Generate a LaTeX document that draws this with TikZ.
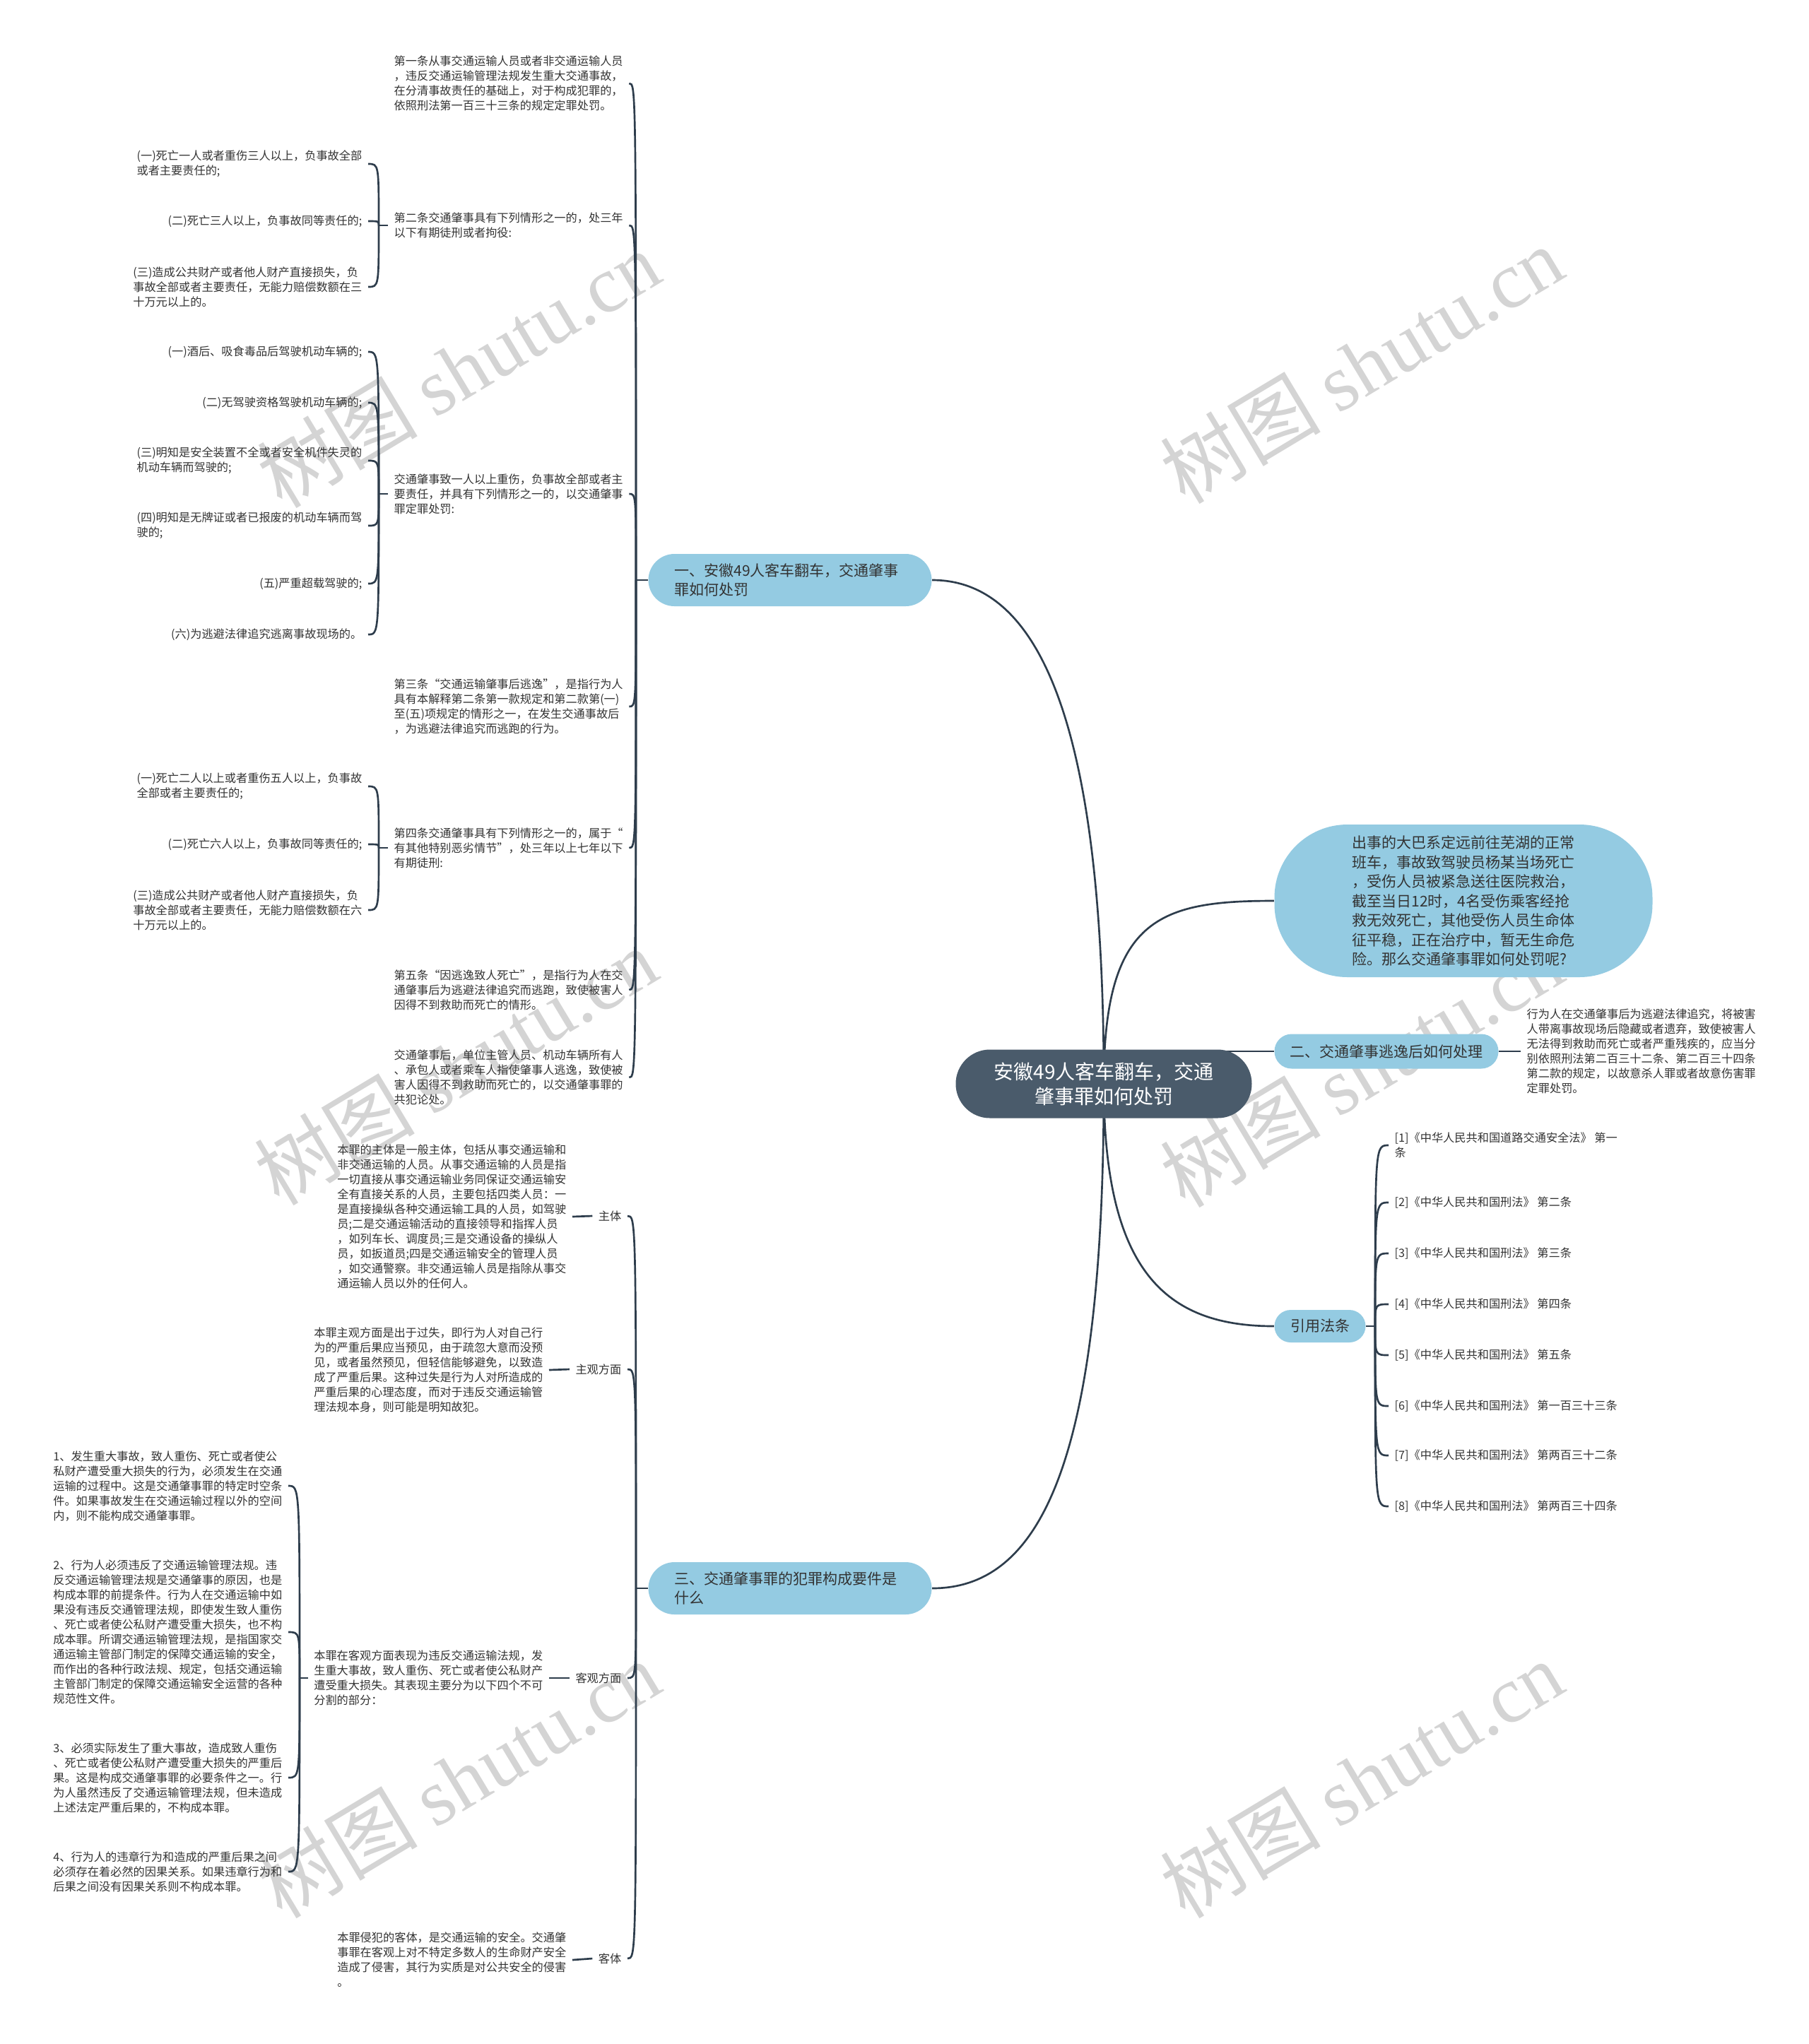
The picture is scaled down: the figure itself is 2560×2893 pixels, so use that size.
\documentclass[tikz,border=0pt]{standalone}
\usepackage{fontspec}
\setmainfont{Noto Sans CJK SC}
\newfontfamily\wmlatin{Liberation Serif}
\usetikzlibrary{backgrounds,calc}
\definecolor{linec}{HTML}{2E3D4C}
\definecolor{lightb}{HTML}{94CBE2}
\definecolor{darkc}{HTML}{4A5B6B}
\definecolor{txt}{HTML}{333333}
\definecolor{wmc}{HTML}{D4D4D4}
\tikzset{
 conn/.style={draw=linec, line width=0.8pt},
 sm/.style={font=\fontsize{4.86pt}{6.3pt}\selectfont, text=txt, inner xsep=2.4pt, inner ysep=1pt, align=left},
 lvl/.style={font=\fontsize{6.3pt}{8.25pt}\selectfont, fill=lightb, text=txt, inner sep=0pt},
 wmark/.style={font=\fontsize{34pt}{34pt}\selectfont, text=wmc, rotate=31, inner sep=0pt},
}
\newcommand\hookto[2]{\draw[conn] (#1) .. controls (#1 |- #2) .. (#2);}
\begin{document}
\begin{tikzpicture}[x=0.3pt,y=-0.3pt]
\useasboundingbox (0,0) rectangle (2560,2893);
% center
\node[font=\fontsize{8.4pt}{10.5pt}\selectfont, fill=darkc, text=white, rounded corners=14.5pt, minimum width=125.7pt, minimum height=29.1pt, align=center, inner sep=0pt] (c) at (1562,1534) {安徽49人客车翻车，交通\\肇事罪如何处罚};
% level 1
\node[lvl, rounded corners=11.1pt, text width=98.1pt, inner xsep=11.1pt, minimum height=22.2pt, align=left] (n1) at (1118,821) {一、安徽49人客车翻车，交通肇事\\罪如何处罚};
\node[lvl, rounded corners=11.1pt, text width=98.1pt, inner xsep=11.1pt, minimum height=22.2pt, align=left] (n3) at (1118,2248) {三、交通肇事罪的犯罪构成要件是\\什么};
\node[lvl, rounded corners=7.3pt, minimum width=95.1pt, minimum height=14.7pt] (n2) at (1962,1488) {二、交通肇事逃逸后如何处理};
\node[lvl, rounded corners=6.9pt, minimum width=38.7pt, minimum height=13.8pt] (n4) at (1868,1877) {引用法条};
\node[lvl, rounded corners=31pt, minimum width=160.5pt, minimum height=64.8pt, align=left] (bub) at (2071,1275) {出事的大巴系定远前往芜湖的正常\\班车，事故致驾驶员杨某当场死亡\\，受伤人员被紧急送往医院救治，\\截至当日12时，4名受伤乘客经抢\\救无效死亡，其他受伤人员生命体\\征平稳，正在治疗中，暂无生命危\\险。那么交通肇事罪如何处罚呢?};
% branch one
\coordinate (P1) at (900,821);
\node[sm, anchor=west] (a1) at (549,118) {第一条从事交通运输人员或者非交通运输人员\\，违反交通运输管理法规发生重大交通事故，\\在分清事故责任的基础上，对于构成犯罪的，\\依照刑法第一百三十三条的规定定罪处罚。};
\node[sm, anchor=west] (a2) at (549,319) {第二条交通肇事具有下列情形之一的，处三年\\以下有期徒刑或者拘役:};
\node[sm, anchor=west] (a3) at (549,699) {交通肇事致一人以上重伤，负事故全部或者主\\要责任，并具有下列情形之一的，以交通肇事\\罪定罪处罚:};
\node[sm, anchor=west] (a4) at (549,1000) {第三条“交通运输肇事后逃逸”，是指行为人\\具有本解释第二条第一款规定和第二款第(一)\\至(五)项规定的情形之一，在发生交通事故后\\，为逃避法律追究而逃跑的行为。};
\node[sm, anchor=west] (a5) at (549,1200) {第四条交通肇事具有下列情形之一的，属于“\\有其他特别恶劣情节”，处三年以上七年以下\\有期徒刑:};
\node[sm, anchor=west] (a6) at (549,1401) {第五条“因逃逸致人死亡”，是指行为人在交\\通肇事后为逃避法律追究而逃跑，致使被害人\\因得不到救助而死亡的情形。};
\node[sm, anchor=west] (a7) at (549,1525) {交通肇事后，单位主管人员、机动车辆所有人\\、承包人或者乘车人指使肇事人逃逸，致使被\\害人因得不到救助而死亡的，以交通肇事罪的\\共犯论处。};
\coordinate (Q2) at (536,319);
\node[sm, anchor=east] (g21) at (521,232) {(一)死亡一人或者重伤三人以上，负事故全部\\或者主要责任的;};
\node[sm, anchor=east] (g22) at (521,313) {(二)死亡三人以上，负事故同等责任的;};
\node[sm, anchor=east] (g23) at (521,406) {(三)造成公共财产或者他人财产直接损失，负\\事故全部或者主要责任，无能力赔偿数额在三\\十万元以上的。};
\coordinate (Q3) at (536,699);
\node[sm, anchor=east] (g31) at (521,498) {(一)酒后、吸食毒品后驾驶机动车辆的;};
\node[sm, anchor=east] (g32) at (521,570) {(二)无驾驶资格驾驶机动车辆的;};
\node[sm, anchor=east] (g33) at (521,652) {(三)明知是安全装置不全或者安全机件失灵的\\机动车辆而驾驶的;};
\node[sm, anchor=east] (g34) at (521,744) {(四)明知是无牌证或者已报废的机动车辆而驾\\驶的;};
\node[sm, anchor=east] (g35) at (521,826) {(五)严重超载驾驶的;};
\node[sm, anchor=east] (g36) at (521,898) {(六)为逃避法律追究逃离事故现场的。};
\coordinate (Q5) at (536,1200);
\node[sm, anchor=east] (g51) at (521,1113) {(一)死亡二人以上或者重伤五人以上，负事故\\全部或者主要责任的;};
\node[sm, anchor=east] (g52) at (521,1195) {(二)死亡六人以上，负事故同等责任的;};
\node[sm, anchor=east] (g53) at (521,1288) {(三)造成公共财产或者他人财产直接损失，负\\事故全部或者主要责任，无能力赔偿数额在六\\十万元以上的。};
% branch three
\coordinate (P3) at (900,2248);
\node[sm, anchor=east] (l1) at (888,1721) {主体};
\node[sm, anchor=east] (l2) at (888,1938) {主观方面};
\node[sm, anchor=east] (l3) at (888,2375) {客观方面};
\node[sm, anchor=east] (l4) at (888,2772) {客体};
\node[sm, anchor=east] (d1) at (810,1722) {本罪的主体是一般主体，包括从事交通运输和\\非交通运输的人员。从事交通运输的人员是指\\一切直接从事交通运输业务同保证交通运输安\\全有直接关系的人员，主要包括四类人员：一\\是直接操纵各种交通运输工具的人员，如驾驶\\员;二是交通运输活动的直接领导和指挥人员\\，如列车长、调度员;三是交通设备的操纵人\\员，如扳道员;四是交通运输安全的管理人员\\，如交通警察。非交通运输人员是指除从事交\\通运输人员以外的任何人。};
\node[sm, anchor=east] (d2) at (777,1939) {本罪主观方面是出于过失，即行为人对自己行\\为的严重后果应当预见，由于疏忽大意而没预\\见，或者虽然预见，但轻信能够避免，以致造\\成了严重后果。这种过失是行为人对所造成的\\严重后果的心理态度，而对于违反交通运输管\\理法规本身，则可能是明知故犯。};
\node[sm, anchor=east] (d3) at (777,2375) {本罪在客观方面表现为违反交通运输法规，发\\生重大事故，致人重伤、死亡或者使公私财产\\遭受重大损失。其表现主要分为以下四个不可\\分割的部分：};
\node[sm, anchor=east] (d4) at (810,2774) {本罪侵犯的客体，是交通运输的安全。交通肇\\事罪在客观上对不特定多数人的生命财产安全\\造成了侵害，其行为实质是对公共安全的侵害\\。};
\coordinate (Q6) at (424,2375);
\node[sm, anchor=east] (e1) at (408,2103) {1、发生重大事故，致人重伤、死亡或者使公\\私财产遭受重大损失的行为，必须发生在交通\\运输的过程中。这是交通肇事罪的特定时空条\\件。如果事故发生在交通运输过程以外的空间\\内，则不能构成交通肇事罪。};
\node[sm, anchor=east] (e2) at (408,2310) {2、行为人必须违反了交通运输管理法规。违\\反交通运输管理法规是交通肇事的原因，也是\\构成本罪的前提条件。行为人在交通运输中如\\果没有违反交通管理法规，即使发生致人重伤\\、死亡或者使公私财产遭受重大损失，也不构\\成本罪。所谓交通运输管理法规，是指国家交\\通运输主管部门制定的保障交通运输的安全，\\而作出的各种行政法规、规定，包括交通运输\\主管部门制定的保障交通运输安全运营的各种\\规范性文件。};
\node[sm, anchor=east] (e3) at (408,2516) {3、必须实际发生了重大事故，造成致人重伤\\、死亡或者使公私财产遭受重大损失的严重后\\果。这是构成交通肇事罪的必要条件之一。行\\为人虽然违反了交通运输管理法规，但未造成\\上述法定严重后果的，不构成本罪。};
\node[sm, anchor=east] (e4) at (408,2649) {4、行为人的违章行为和造成的严重后果之间\\必须存在着必然的因果关系。如果违章行为和\\后果之间没有因果关系则不构成本罪。};
% right side
\node[sm, anchor=west] (t2) at (2152,1488) {行为人在交通肇事后为逃避法律追究，将被害\\人带离事故现场后隐藏或者遗弃，致使被害人\\无法得到救助而死亡或者严重残疾的，应当分\\别依照刑法第二百三十二条、第二百三十四条\\第二款的规定，以故意杀人罪或者故意伤害罪\\定罪处罚。};
\coordinate (R) at (1946,1877);
\node[sm, anchor=west] (r1) at (1965,1621) {[1]《中华人民共和国道路交通安全法》 第一\\条};
\node[sm, anchor=west] (r2) at (1965,1702) {[2]《中华人民共和国刑法》 第二条};
\node[sm, anchor=west] (r3) at (1965,1774) {[3]《中华人民共和国刑法》 第三条};
\node[sm, anchor=west] (r4) at (1965,1846) {[4]《中华人民共和国刑法》 第四条};
\node[sm, anchor=west] (r5) at (1965,1918) {[5]《中华人民共和国刑法》 第五条};
\node[sm, anchor=west] (r6) at (1965,1990) {[6]《中华人民共和国刑法》 第一百三十三条};
\node[sm, anchor=west] (r7) at (1965,2060) {[7]《中华人民共和国刑法》 第两百三十二条};
\node[sm, anchor=west] (r8) at (1965,2132) {[8]《中华人民共和国刑法》 第两百三十四条};
\begin{scope}[on background layer]
\fill[white] (0,0) rectangle (2560,2893);
\foreach \wx/\wy [count=\i] in {649/522,1927/516,645/1509,1927/1512,649/2518,1927/2518}
  \node[wmark] (wm\i) at (\wx,\wy) {树图 {\wmlatin shutu.cn}};
% first level
\draw[conn] (c.center) .. controls (1562,1050) and (1480,821) .. (n1.east);
\draw[conn] (c.center) .. controls (1562,1300) and (1640,1275) .. (bub.west);
\draw[conn] (c.center |- n2.west) -- (n2.west);
\draw[conn] (c.center) .. controls (1562,1800) and (1650,1877) .. (n4.west);
\draw[conn] (c.center) .. controls (1562,2050) and (1480,2248) .. (n3.east);
% branch one
\draw[conn] (n1.west) -- (P1);
\foreach \k in {a1,a2,a3,a4,a5,a6,a7} {\hookto{P1}{\k.east}}
\draw[conn] (a2.west) -- (Q2);
\foreach \k in {g21,g22,g23} {\hookto{Q2}{\k.east}}
\draw[conn] (a3.west) -- (Q3);
\foreach \k in {g31,g32,g33,g34,g35,g36} {\hookto{Q3}{\k.east}}
\draw[conn] (a5.west) -- (Q5);
\foreach \k in {g51,g52,g53} {\hookto{Q5}{\k.east}}
% branch three
\draw[conn] (n3.west) -- (P3);
\foreach \k in {l1,l2,l3,l4} {\hookto{P3}{\k.east}}
\draw[conn] (l1.west) -- (d1.east);
\draw[conn] (l2.west) -- (d2.east);
\draw[conn] (l3.west) -- (d3.east);
\draw[conn] (l4.west) -- (d4.east);
\draw[conn] (d3.west) -- (Q6);
\foreach \k in {e1,e2,e3,e4} {\hookto{Q6}{\k.east}}
% right
\draw[conn] (n2.east) -- (t2.west);
\draw[conn] (n4.east) -- (R);
\foreach \k in {r1,r2,r3,r4,r5,r6,r7,r8} {\hookto{R}{\k.west}}
\end{scope}
\end{tikzpicture}
\end{document}
